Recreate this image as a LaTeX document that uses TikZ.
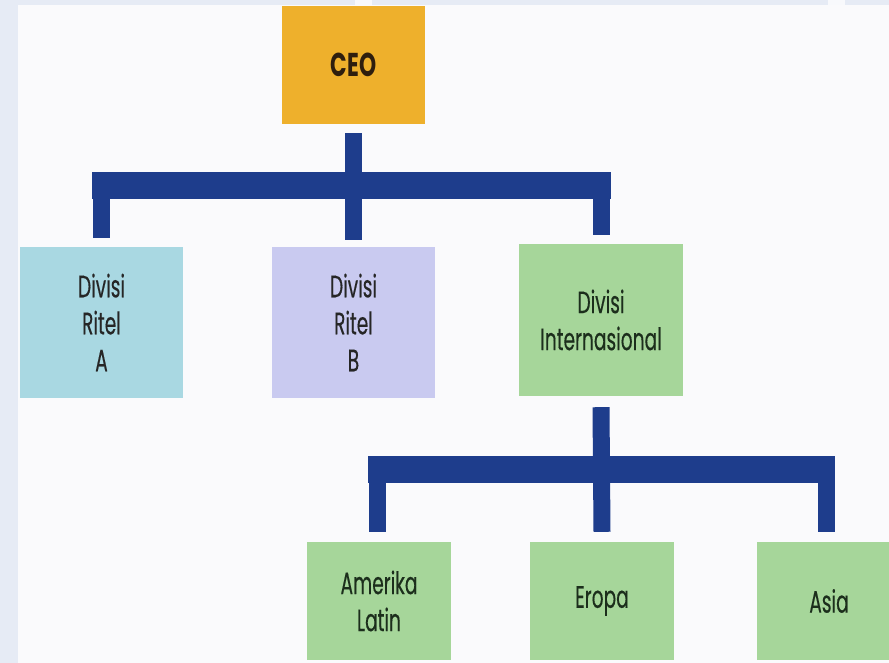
\documentclass[tikz,border=0pt]{standalone}
\usepackage{fontspec}
\setmainfont{Poppins}[FakeStretch=0.6]
\newfontfamily\boxfont{Poppins}[FakeStretch=0.6,FakeBold=0.3]
\newfontfamily\ceofont{Poppins Bold}[FakeStretch=0.66]
\definecolor{bgblue}{HTML}{E6EBF5}
\definecolor{paper}{HTML}{FAFAFC}
\definecolor{ceoc}{HTML}{EEB02C}
\definecolor{cyanc}{HTML}{A9D8E2}
\definecolor{lavc}{HTML}{C9CAF0}
\definecolor{greenc}{HTML}{A6D69A}
\definecolor{navy}{HTML}{1E3D8C}
\definecolor{txt}{HTML}{262626}
\definecolor{gtxt}{HTML}{1C2E1C}
\definecolor{ceotxt}{HTML}{2E1E0E}
\tikzset{
  box/.style={draw=none,minimum width=163pt,minimum height=151pt,inner sep=0pt,align=center,
    font=\boxfont\fontsize{31}{37}\selectfont,text=txt},
  subbox/.style={box,fill=greenc,minimum width=144pt,minimum height=118pt,text=gtxt},
  vline/.style={draw=navy,line width=17pt,line cap=butt},
  hbar/.style={draw=navy,line width=27pt,line cap=butt}
}
\begin{document}
\begin{tikzpicture}[x=1pt,y=-1pt]
\useasboundingbox (0,0) rectangle (889,663);
\fill[bgblue] (0,0) rectangle (889,663);
\fill[white!70!bgblue] (355,0) rectangle (372,5);
\fill[white!70!bgblue] (828,0) rectangle (845,5);
\fill[paper] (18,5) rectangle (889,663);

\node[box,fill=ceoc,minimum width=143pt,minimum height=118pt,font=\ceofont\fontsize{33}{36}\selectfont,text=ceotxt] (ceo) at (353.5,65) {CEO};
\node[box,fill=cyanc] (a) at (101.5,322.5) {Divisi\\Ritel\\A};
\node[box,fill=lavc] (b) at (353.5,322.5) {Divisi\\Ritel\\B};
\node[box,fill=greenc,minimum width=164pt,minimum height=152pt,text=gtxt] (i) at (601,320) {Divisi\\Internasional};
\node[subbox] (al) at (379,601) {Amerika\\Latin};
\node[subbox] (e) at (602,601) {Eropa};
\node[subbox] (as) at (829,601) {Asia};

% level 1 connectors
\coordinate (b1l) at (92,186);
\coordinate (b1r) at (611,186);
\draw[hbar] (b1l) -- (b1r);
\draw[vline] ([yshift=-9pt]ceo.south) -- ([yshift=7pt]b.north);
\draw[vline] ([xshift=-0.5pt]a.north |- b1l) ++(0,-13.5) -- ([xshift=-0.5pt,yshift=9pt]a.north);
\draw[vline] ([xshift=0.5pt]i.north |- b1r) ++(0,-13.5) -- ([xshift=0.5pt,yshift=9pt]i.north);

% level 2 connectors
\coordinate (b2l) at (368,469.5);
\coordinate (b2r) at (835,469.5);
\draw[hbar] (b2l) -- (b2r);
\draw[vline] ([yshift=-11pt]i.south) -- ([yshift=10pt]e.north);
\draw[vline] ([xshift=-1.5pt]al.north |- b2l) ++(0,-13.5) -- ([xshift=-1.5pt,yshift=10pt]al.north);
\draw[vline] ([xshift=-2.5pt]as.north |- b2r) ++(0,-13.5) -- ([xshift=-2.5pt,yshift=10pt]as.north);
\end{tikzpicture}
\end{document}
